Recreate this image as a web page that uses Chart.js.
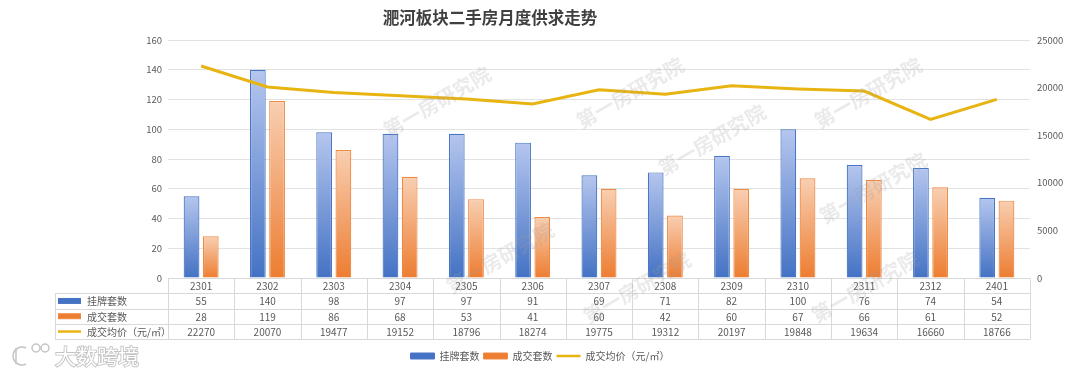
<!DOCTYPE html>
<html>
<head>
<meta charset="utf-8">
<script src="https://cdn.jsdelivr.net/npm/chart.js@4.4.1/dist/chart.umd.min.js"></script>
<style>
  html, body { margin: 0; padding: 0; background: #fff; }
  #wrap { width: 1080px; height: 375px; position: relative; }
</style>
</head>
<body>
<div id="wrap"><canvas id="chart"></canvas></div>
<script>
// --- Data ---
const categories = ["2301", "2302", "2303", "2304", "2305", "2306", "2307", "2308", "2309", "2310", "2311", "2312", "2401"];
const listed = [55, 140, 98, 97, 97, 91, 69, 71, 82, 100, 76, 74, 54];
const sold   = [28, 119, 86, 68, 53, 41, 60, 42, 60, 67, 66, 61, 52];
const price  = [22270, 20070, 19477, 19152, 18796, 18274, 19775, 19312, 20197, 19848, 19634, 16660, 18766];

const seriesNames = ["挂牌套数", "成交套数", "成交均价（元/㎡）"];
const titleText   = "淝河板块二手房月度供求走势";

const FONT  = "'Noto Sans CJK SC', 'Noto Sans', sans-serif";
const TEXT  = "#595959";
const GRID  = "#e2e2e2";
const LINEC = "#e8b412";
const BLUE  = { light: "#b5c6ee", dark: "#4472c4", border: "#4a76c6" };
const ORNG  = { light: "#f8cfb2", dark: "#ed7d31", border: "#ef8a45" };

// --- Helpers ---
function barGradient(c) {
  return ctx => {
    const chart = ctx.chart;
    const area  = chart.chartArea;
    if (!area || ctx.type !== "data") return c.dark;
    const top = chart.scales.y.getPixelForValue(ctx.raw);
    const g = chart.ctx.createLinearGradient(0, top, 0, area.bottom);
    g.addColorStop(0, c.light);
    g.addColorStop(1, c.dark);
    return g;
  };
}

// title, data table, watermarks, logo
const decorPlugin = {
  id: "decor",
  beforeDraw(chart) {
    const ctx = chart.ctx;
    ctx.save();
    ctx.fillStyle = "#404040";
    ctx.font = "bold 16.5px " + FONT;
    ctx.textAlign = "center";
    ctx.textBaseline = "middle";
    ctx.fillText(titleText, 490, 18);
    ctx.restore();
  },
  afterDraw(chart) {
    const { ctx, chartArea: a } = chart;
    const n     = categories.length;
    const colW  = (a.right - a.left) / n;
    const rowH  = 15.3;
    const top   = a.bottom;
    const left  = 55;
    const px    = v => Math.round(v) + 0.5;

    ctx.save();
    ctx.strokeStyle = "#d9d9d9";
    ctx.lineWidth = 1;
    ctx.beginPath();
    ctx.moveTo(a.left, px(top)); ctx.lineTo(a.right, px(top));
    for (let r = 1; r <= 4; r++) {
      ctx.moveTo(left, px(top + r * rowH)); ctx.lineTo(a.right, px(top + r * rowH));
    }
    ctx.moveTo(px(left), px(top + rowH)); ctx.lineTo(px(left), px(top + 4 * rowH));
    for (let i = 0; i <= n; i++) {
      const x = px(a.left + i * colW);
      ctx.moveTo(x, px(top)); ctx.lineTo(x, px(top + 4 * rowH));
    }
    ctx.stroke();

    // cell text
    ctx.fillStyle = TEXT;
    ctx.font = "10px " + FONT;
    ctx.textAlign = "center";
    ctx.textBaseline = "middle";
    const rows = [categories, listed, sold, price];
    rows.forEach((row, r) => {
      const y = top + r * rowH + rowH / 2 + 0.5;
      row.forEach((v, i) => ctx.fillText(String(v), a.left + (i + 0.5) * colW, y));
    });

    // row headers with keys
    ctx.textAlign = "left";
    seriesNames.forEach((name, r) => {
      const y = top + (r + 1) * rowH + rowH / 2;
      if (r < 2) {
        const c = r === 0 ? BLUE : ORNG;
        ctx.fillStyle = c.dark;
        ctx.fillRect(58, y - 2.5, 23, 5);
        ctx.strokeStyle = c.border;
        ctx.strokeRect(58.5, y - 2.5, 22, 5);
      } else {
        ctx.strokeStyle = LINEC;
        ctx.lineWidth = 2.5;
        ctx.beginPath(); ctx.moveTo(58, y); ctx.lineTo(81, y); ctx.stroke();
        ctx.lineWidth = 1;
      }
      ctx.fillStyle = TEXT;
      ctx.fillText(name, 87, y + 0.5);
    });

    // watermarks
    ctx.font = "bold 20px " + FONT;
    ctx.textAlign = "center";
    ctx.fillStyle = "rgba(160,160,160,0.22)";
    [[437, 102], [630, 93], [868, 93], [500, 258], [637, 288], [712, 140], [873, 188], [865, 287]]
      .forEach(([wx, wy]) => {
        ctx.save();
        ctx.translate(wx, wy);
        ctx.rotate(-30 * Math.PI / 180);
        ctx.fillText("第一房研究院", 0, 0);
        ctx.restore();
      });

    // logo bottom-left
    ctx.strokeStyle = "#c4c4c4";
    ctx.fillStyle = "#ffffff";
    ctx.lineWidth = 1.5;
    ctx.beginPath();
    ctx.arc(22, 356, 9, Math.PI * 0.35, Math.PI * 1.65);
    ctx.stroke();
    ctx.beginPath(); ctx.moveTo(16, 348); ctx.lineTo(16, 364); ctx.stroke();
    ctx.beginPath(); ctx.arc(36, 348, 4, 0, Math.PI * 2); ctx.stroke();
    ctx.beginPath(); ctx.arc(45, 348, 4, 0, Math.PI * 2); ctx.stroke();
    ctx.font = "21px " + FONT;
    ctx.textAlign = "left";
    ctx.lineWidth = 1.8;
    ctx.strokeText("大数跨境", 55, 356);
    ctx.fillText("大数跨境", 55, 356);
    ctx.restore();
  }
};

// --- Chart ---
new Chart(document.getElementById("chart"), {
  type: "bar",
  data: {
    labels: categories,
    datasets: [
      {
        label: seriesNames[0],
        data: listed,
        yAxisID: "y",
        backgroundColor: barGradient(BLUE),
        borderColor: BLUE.border,
        borderWidth: 1.2,
        barPercentage: 0.82,
        categoryPercentage: 0.58,
        legendColor: BLUE.dark
      },
      {
        label: seriesNames[1],
        data: sold,
        yAxisID: "y",
        backgroundColor: barGradient(ORNG),
        borderColor: ORNG.border,
        borderWidth: 1.2,
        barPercentage: 0.82,
        categoryPercentage: 0.58,
        legendColor: ORNG.dark
      },
      {
        type: "line",
        label: seriesNames[2],
        data: price,
        yAxisID: "y1",
        borderColor: LINEC,
        backgroundColor: LINEC,
        borderWidth: 3,
        pointRadius: 0,
        tension: 0,
        order: -1
      }
    ]
  },
  options: {
    responsive: true,
    maintainAspectRatio: false,
    animation: false,
    layout: { padding: { top: 40, left: 0, right: 0, bottom: 4 } },
    plugins: {
      tooltip: { enabled: false },
      legend: {
        position: "bottom",
        labels: {
          color: TEXT,
          font: { family: FONT, size: 10 },
          usePointStyle: true,
          pointStyleWidth: 24,
          boxHeight: 6,
          padding: 4,
          sort: (a, b) => a.datasetIndex - b.datasetIndex,
          generateLabels(chart) {
            return chart.data.datasets.map((ds, i) => {
              const isLine = ds.type === "line";
              return {
                text: ds.label,
                datasetIndex: i,
                fillStyle: isLine ? LINEC : ds.legendColor,
                strokeStyle: isLine ? LINEC : ds.borderColor,
                lineWidth: isLine ? 2.5 : 1,
                pointStyle: isLine ? "line" : "rect",
                fontColor: TEXT,
                hidden: false
              };
            });
          }
        }
      }
    },
    scales: {
      x: {
        grid: { display: false },
        border: { display: false },
        ticks: { display: false },
        afterFit: s => { s.height = 69; }
      },
      y: {
        position: "left",
        min: 0,
        max: 160,
        ticks: { stepSize: 20, color: TEXT, font: { family: FONT, size: 9.5 }, padding: 6 },
        grid: { color: GRID, drawTicks: false },
        border: { display: false },
        afterFit: s => { s.width = 168; }
      },
      y1: {
        position: "right",
        min: 0,
        max: 25000,
        ticks: { stepSize: 5000, color: TEXT, font: { family: FONT, size: 9.5 }, padding: 7, callback: v => String(v) },
        grid: { display: false, drawTicks: false },
        border: { display: false },
        afterFit: s => { s.width = 50; }
      }
    }
  },
  plugins: [decorPlugin]
});
</script>
</body>
</html>
